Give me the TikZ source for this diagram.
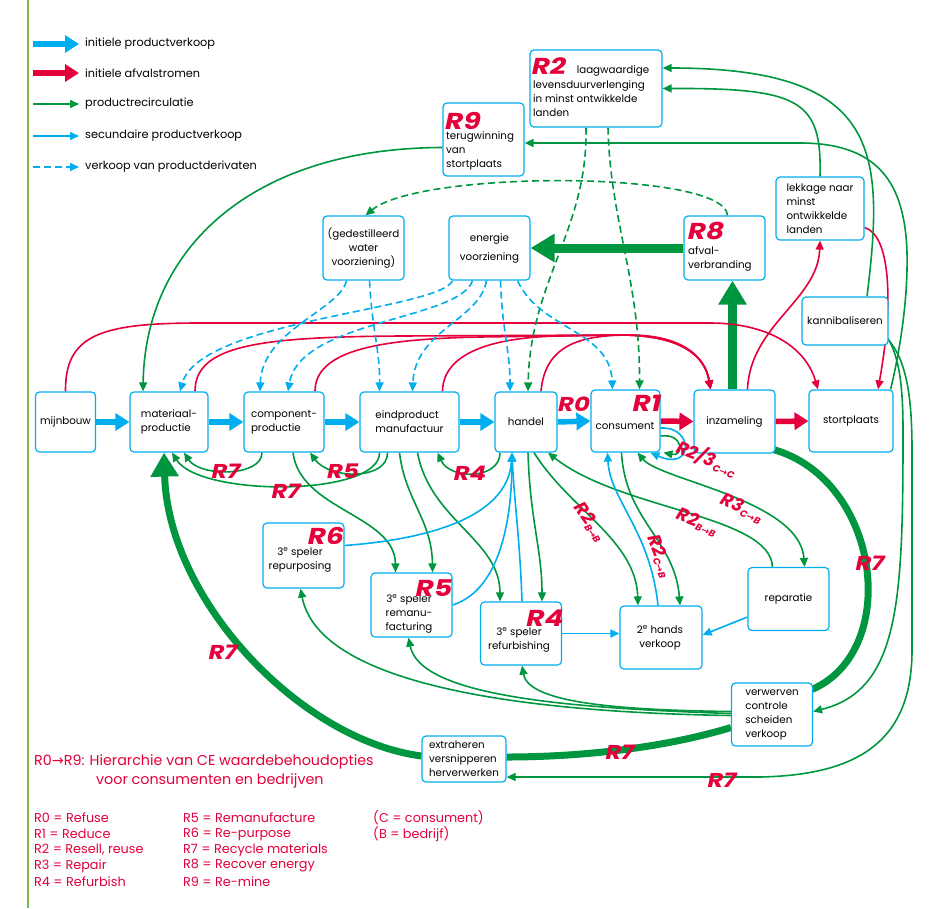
\documentclass[tikz,border=0pt]{standalone}
\usepackage{fontspec}
\setmainfont{Poppins}
\newfontfamily\dejavu{DejaVu Sans}
\usetikzlibrary{arrows.meta,calc}
\definecolor{cblue}{HTML}{00AEEF}
\definecolor{cred}{HTML}{E4003A}
\definecolor{cgreen}{HTML}{00963F}
\definecolor{cborder}{HTML}{7AB648}
\pgfdeclarelayer{bg}
\pgfsetlayers{bg,main}
\newcommand{\rarrow}{{\dejavu\char"2192}}
\newcommand{\wide}[1]{\scalebox{1.22}[1]{#1}}
\tikzset{
  box/.style={draw=cblue, line width=1.2pt, rounded corners=4pt, fill=white, inner sep=1pt, align=center, font=\fontsize{10.3}{14}\selectfont},
  txt/.style={inner sep=0pt, font=\fontsize{10.3}{14}\selectfont},
  rlab/.style={inner sep=0pt, text=cred, font=\fontsize{20}{20}\selectfont\bfseries\itshape},
  rbig/.style={inner sep=0pt, text=cred, font=\fontsize{23}{23}\selectfont\bfseries\itshape},
  sub/.style={inner sep=0pt, text=cred, font=\fontsize{18}{18}\selectfont\bfseries\itshape},
  gar/.style={cgreen, line width=1.6pt, -{Triangle[length=9pt,width=8pt]}},
  bar/.style={cblue, line width=1.6pt, -{Triangle[length=9pt,width=8pt]}},
  rar/.style={cred, line width=1.6pt, -{Triangle[length=9pt,width=8pt]}},
  gdash/.style={gar, dash pattern=on 7pt off 4pt},
  bdash/.style={bar, dash pattern=on 7pt off 4pt},
  bigb/.style={cblue, line width=5.5pt, -{Triangle[length=14pt,width=17pt]}},
  bigr/.style={cred, line width=5.5pt, -{Triangle[length=14pt,width=17pt]}},
  bigg/.style={cgreen, line width=9pt, -{Triangle[length=24pt,width=27pt]}},
  thickg/.style={cgreen, line width=7pt},
  legtxt/.style={inner sep=0pt, anchor=west, font=\fontsize{11.3}{13}\selectfont},
  redtxt/.style={inner sep=0pt, anchor=west, text=cred, font=\fontsize{12.8}{16}\selectfont},
}
\newcommand{\subs}[1]{\raisebox{-3pt}{\fontsize{9.5}{9.5}\selectfont #1}}
\begin{document}
\begin{tikzpicture}[x=1pt,y=-1pt]
\useasboundingbox (0,0) rectangle (933,908);
\draw[cborder, line width=1.5pt] (28,0) -- (28,908);

% ---------- legend ----------
\coordinate (l1a) at (33,44); \coordinate (l1b) at (79,44);
\coordinate (l2a) at (33,73); \coordinate (l2b) at (79,73);
\coordinate (l3a) at (33,104); \coordinate (l3b) at (79,104);
\coordinate (l4a) at (33,136); \coordinate (l4b) at (79,136);
\coordinate (l5a) at (33,167); \coordinate (l5b) at (79,167);
\draw[bigb] (l1a) -- (l1b);
\draw[bigr] (l2a) -- (l2b);
\draw[gar] (l3a) -- (l3b);
\draw[bar] (l4a) -- (l4b);
\draw[bdash] (l5a) -- (l5b);
\node[legtxt] (lt1) at (85,44) {initiele productverkoop};
\node[legtxt] (lt2) at (85,73) {initiele afvalstromen};
\node[legtxt] (lt3) at (85,104) {productrecirculatie};
\node[legtxt] (lt4) at (85,136) {secundaire productverkoop};
\node[legtxt] (lt5) at (85,167) {verkoop van productderivaten};

% ---------- boxes ----------
\node[box,minimum width=60pt,minimum height=60pt] (mij) at (65.5,422) {mijnbouw};
\node[box,minimum width=78pt,minimum height=60pt,align=left] (mat) at (169,422) {materiaal-\\productie};
\node[box,minimum width=80pt,minimum height=60pt,align=left] (comp) at (284,422) {component-\\productie};
\node[box,minimum width=99pt,minimum height=60pt,align=left] (eind) at (409.5,422) {eindproduct\\manufactuur};
\node[box,minimum width=62pt,minimum height=60pt] (han) at (526,422) {handel};
\node[box,minimum width=69pt,minimum height=62pt] (con) at (625.5,421) {};
\node[txt] (cont) at (625,426) {consument};
\node[box,minimum width=81pt,minimum height=63pt] (inz) at (734.5,421.5) {inzameling};
\node[box,minimum width=84pt,minimum height=62pt] (sto) at (851,421) {stortplaats};
\node[box,minimum width=132pt,minimum height=77pt] (r2) at (596,88.5) {};
\node[txt,anchor=north west,align=left] (r2t) at (533,80) {levensduurverlenging\\in minst ontwikkelde\\landen};
\node[txt] (r2t1) at (613,71) {laagwaardige};
\node[box,minimum width=81pt,minimum height=73pt] (r9) at (483.5,139.5) {};
\node[txt,anchor=north west,align=left] (r9t) at (446,131) {terugwinning\\van\\stortplaats};
\node[box,minimum width=81pt,minimum height=64pt] (wat) at (363.5,248) {(gedestilleerd\\water\\voorziening)};
\node[box,minimum width=81pt,minimum height=64pt] (ene) at (489.5,248) {energie\\[5pt]voorziening};
\node[box,minimum width=81pt,minimum height=64pt] (r8) at (724.5,248) {};
\node[txt,anchor=north west,align=left] (r8t) at (688,246) {afval-\\verbranding};
\node[box,minimum width=88pt,minimum height=63pt,align=left] (lek) at (820,208.5) {lekkage naar\\minst\\ontwikkelde\\landen};
\node[box,minimum width=86pt,minimum height=48pt] (kan) at (845,321) {kannibaliseren};
\node[box,minimum width=81pt,minimum height=65pt] (r6) at (303.5,555.5) {};
\node[txt,align=center] (r6t) at (300,560) {3\textsuperscript{e} speler\\repurposing};
\node[box,minimum width=81pt,minimum height=64pt] (r5) at (411.5,605) {};
\node[txt,align=center] (r5t) at (409,614) {3\textsuperscript{e} speler\\remanu-\\facturing};
\node[box,minimum width=81pt,minimum height=63pt] (r4) at (521,633.5) {};
\node[txt,align=center] (r4t) at (519,640) {3\textsuperscript{e} speler\\refurbishing};
\node[box,minimum width=82pt,minimum height=63pt] (tweede) at (661,637.5) {};
\node[txt,align=center] (tweedet) at (660,638) {2\textsuperscript{e} hands\\verkoop};
\node[box,minimum width=81pt,minimum height=63pt] (rep) at (788.5,599) {reparatie};
\node[box,minimum width=81pt,minimum height=63pt,align=left] (ver) at (772,714.5) {verwerven\\controle\\scheiden\\verkoop};
\node[box,minimum width=84pt,minimum height=46pt,align=left,inner sep=0pt] (ext) at (464,759) {extraheren\\versnipperen\\herverwerken};

% ---------- R labels in boxes ----------
\node[rbig] (lr2) at (549,66) {\wide{R2}};
\node[rbig] (lr9) at (463,121) {\wide{R9}};
\node[rbig] (lr8) at (706,231) {\wide{R8}};
\node[rbig] (lr1) at (647,403) {\wide{R1}};
\node[rbig] (lr6) at (326,536) {\wide{R6}};
\node[rbig] (lr5) at (434,588) {\wide{R5}};
\node[rbig] (lr4) at (545,618) {\wide{R4}};

% ---------- connectors ----------
\begin{pgfonlayer}{bg}
% main flow
\draw[bigb] (mij.east) -- (mat.west);
\draw[bigb] (mat.east) -- (comp.west);
\draw[bigb] (comp.east) -- (eind.west);
\draw[bigb] (eind.east) -- (han.west);
\draw[bigb] (han.east) -- (con.west);
\draw[bigr] (con.east) -- (inz.west);
\draw[bigr] (inz.east) -- (sto.west);
\draw[bigg] ($(inz.north)+(-2,0)$) -- ($(r8.south)+(8,0)$);
\draw[bigg] (r8.west) -- (ene.east);

% red top arcs
\draw[rar] (mij.north) .. controls (65,335) and (100,323) .. (200,323) -- (710,323) .. controls (765,323) and (805,345) .. ($(sto.north)+(-33,0)$);
\draw[rar] ($(mat.north)+(26,0)$) .. controls (195,345) and (260,337) .. (400,336) -- (620,335) .. controls (680,335) and (705,355) .. ($(inz.north)+(-24,0)$);
\draw[rar] ($(comp.north)+(31,0)$) .. controls (315,350) and (380,339) .. (480,337) -- (620,335) .. controls (680,335) and (705,355) .. ($(inz.north)+(-24,0)$);
\draw[rar] ($(eind.north)+(33,0)$) .. controls (443,350) and (500,337) .. (560,336) -- (620,335) .. controls (680,335) and (705,355) .. ($(inz.north)+(-24,0)$);
\draw[rar] ($(han.north)+(15,0)$) .. controls (545,345) and (580,335) .. (630,335) .. controls (680,335) and (705,355) .. ($(inz.north)+(-24,0)$);
\draw[rar] ($(inz.north)+(13,0)$) .. controls (750,325) and (818,300) .. (lek.south);
\draw[rar] ($(lek.east)+(0,19)$) .. controls (890,235) and (894,300) .. ($(sto.north)+(27,0)$);

% green from R9 to materiaal
\draw[gar] ($(r9.west)+(0,8)$) .. controls (250,148) and (145,250) .. ($(mat.north)+(-26,0)$);
% green dashed from R2
\draw[gdash] ($(r2.south)+(-10,0)$) .. controls (588,230) and (530,280) .. ($(han.north)+(2,0)$);
\draw[gdash] ($(r2.south)+(12,0)$) .. controls (610,220) and (640,280) .. ($(con.north)+(14,0)$);
% green dashed R8 -> water
\draw[gdash] ($(r8.north)+(3,0)$) .. controls (725,170) and (420,170) .. ($(wat.north)+(2,0)$);

% blue dashed from water and energie
\draw[bdash] ($(wat.south)+(-17,0)$) .. controls (340,310) and (262,330) .. ($(comp.north)+(-24,0)$);
\draw[bdash] ($(wat.south)+(6,0)$) .. controls (372,330) and (380,350) .. ($(eind.north)+(-30,0)$);
\draw[bdash] ($(ene.south)+(-37,0)$) .. controls (440,310) and (200,320) .. ($(mat.north)+(11,0)$);
\draw[bdash] ($(ene.south)+(-17,0)$) .. controls (460,320) and (300,320) .. ($(comp.north)+(4,0)$);
\draw[bdash] ($(ene.south)+(-3,0)$) .. controls (480,320) and (415,330) .. ($(eind.north)+(3,0)$);
\draw[bdash] ($(ene.south)+(11,0)$) .. controls (502,330) and (510,350) .. ($(han.north)+(-16,0)$);
\draw[bdash] ($(ene.south)+(28,0)$) .. controls (540,330) and (610,330) .. ($(con.north)+(-13,0)$);

% lower green recirculation
\draw[gar] ($(comp.south)+(-22,0)$) .. controls (262,477) and (200,477) .. ($(mat.south)+(15,0)$);
\draw[gar] ($(eind.south)+(-30,0)$) .. controls (380,497) and (200,497) .. ($(mat.south)+(3,0)$);
\draw[gar] ($(eind.south)+(-22,0)$) .. controls (388,480) and (330,480) .. ($(comp.south)+(26,0)$);
\draw[gar] ($(han.south)+(-26,0)$) .. controls (500,480) and (450,480) .. ($(eind.south)+(28,0)$);
\draw[gar] ($(comp.south)+(9,0)$) .. controls (300,510) and (395,515) .. ($(r5.north)+(-16,0)$);
\draw[gar] ($(eind.south)+(-10,0)$) .. controls (405,500) and (432,520) .. ($(r5.north)+(21,0)$);
\draw[gar] ($(eind.south)+(8,0)$) .. controls (430,520) and (500,540) .. ($(r4.north)+(-21,0)$);
\draw[gar] ($(han.south)+(2,0)$) .. controls (530,520) and (542,550) .. ($(r4.north)+(21,0)$);
\draw[gar] ($(han.south)+(8,0)$) .. controls (570,510) and (636,540) .. ($(tweede.north)+(-23,0)$);
\draw[gar] ($(rep.north)+(-16,0)$) .. controls (770,515) and (620,510) .. ($(han.south)+(22,0)$);
\draw[gar, {Triangle[length=9pt,width=8pt]}-{Triangle[length=9pt,width=8pt]}] ($(con.south)+(12,0)$) .. controls (660,480) and (800,500) .. ($(rep.north)+(16,0)$);
\draw[gar] ($(con.south)+(-4,0)$) .. controls (625,520) and (675,540) .. ($(tweede.north)+(19,0)$);

% blue secondary sales
\draw[bar] ($(tweede.north)+(-3,0)$) .. controls (650,530) and (610,500) .. ($(con.south)+(-18,0)$);
\draw[bar] ($(r6.east)+(0,-10)$) .. controls (420,540) and (508,520) .. ($(han.south)+(-14,0)$);
\draw[bar] (r5.east) .. controls (500,590) and (512,520) .. ($(han.south)+(-14,0)$);
\draw[bar] ($(r4.north)+(1,0)$) .. controls (520,540) and (514,500) .. ($(han.south)+(-14,0)$);
\draw[bar] (r4.east) -- ($(tweede.west)+(0,-4)$);
\draw[bar] ($(rep.west)+(0,18)$) -- ($(tweede.east)+(0,-2.5)$);
% loops at consument
\draw[bar] ($(con.east)+(0,7)$) .. controls (694,426) and (694,472) .. ($(con.south)+(25,0)$);
\draw[gar] ($(con.east)+(0,15)$) .. controls (684,433) and (684,457) .. ($(con.south)+(38,0)$);

% R7 thick flows
\draw[thickg] ($(inz.south east)+(-2,-4)$) .. controls (880,480) and (902,650) .. ($(ver.north east)+(-1,7)$);
\draw[thickg] ($(ver.west)+(0,13)$) .. controls (650,752) and (560,757) .. ($(ext.east)+(0,-2)$);
\draw[bigg, line width=7pt] ($(ext.west)+(0,-3)$) .. controls (300,740) and (168,600) .. ($(mat.south)+(-5,0)$);

% verwerven -> 3rd players
\draw[gar] ($(ver.west)+(0,-3)$) .. controls (600,710) and (528,700) .. ($(r4.south)+(1,0)$);
\draw[gar] ($(ver.west)+(0,-1)$) .. controls (560,708) and (420,695) .. ($(r5.south)+(-3,0)$);
\draw[gar] ($(ver.west)+(0,1)$) .. controls (500,712) and (318,680) .. ($(r6.south)+(-3,0)$);

% right side long green lines
\draw[gar] ($(kan.north)+(22,0)$) .. controls (885,150) and (880,68) .. ($(r2.east)+(0,-20.5)$);
\draw[gar] (lek.north) .. controls (822,100) and (800,88) .. (r2.east);
\draw[gar] ($(sto.north east)+(-3,0)$) .. controls (900,350) and (908,300) .. (907,253) .. controls (905,185) and (880,143) .. (800,143) -- ($(r9.east)+(0,3.5)$);
\draw[gar] ($(kan.south east)+(-5,-13)$) .. controls (898,350) and (903,380) .. (903,430) .. controls (903,600) and (900,690) .. ($(ver.east)+(0,-3)$);
\draw[gar] ($(kan.south east)+(-5,-11)$) .. controls (905,355) and (912,390) .. (912,450) -- (912,650) .. controls (912,740) and (860,775) .. (760,777) -- ($(ext.east)+(0,18)$);
\end{pgfonlayer}

% ---------- flow labels ----------
\node[rlab] (lr0) at (574,404) {\wide{R0}};
\node[rlab] (l7a) at (226,471) {\wide{R7}};
\node[rlab] (l7b) at (286,491) {\wide{R7}};
\node[rlab] (l5b) at (343,471) {\wide{R5}};
\node[rlab] (l4b) at (470,473) {\wide{R4}};
\node[rlab] (l7c) at (870,563) {\wide{R7}};
\node[rlab] (l7d) at (620,752) {\wide{R7}};
\node[rlab] (l7e) at (223,652) {\wide{R7}};
\node[rlab] (l7f) at (722,780) {\wide{R7}};
\node[sub, rotate=-22] (l23) at (707,458) {R2/3\subs{C\rarrow C}};
\node[sub, rotate=-25] (l3cb) at (742,508) {R3\subs{C\rarrow B}};
\node[sub, rotate=-22] (l2bb2) at (697,522) {R2\subs{B\rarrow B}};
\node[sub, rotate=-55] (l2bb1) at (590,522) {R2\subs{B\rarrow B}};
\node[sub, rotate=-70] (l2cb) at (660,556) {R2\subs{C\rarrow B}};

% ---------- bottom legend ----------
\node[redtxt, font=\fontsize{14.3}{16}\selectfont] (h1) at (34,762) {R0\rarrow R9: Hierarchie van CE waardebehoudopties};
\node[redtxt, font=\fontsize{14.3}{16}\selectfont] (h2) at (96,781) {voor consumenten en bedrijven};
\node[redtxt] (a0) at (34,818) {R0 = Refuse};
\node[redtxt] (a1) at (34,834) {R1 = Reduce};
\node[redtxt] (a2) at (34,850) {R2 = Resell, reuse};
\node[redtxt] (a3) at (34,866) {R3 = Repair};
\node[redtxt] (a4) at (34,882) {R4 = Refurbish};
\node[redtxt] (a5) at (183,818) {R5 = Remanufacture};
\node[redtxt] (a6) at (183,834) {R6 = Re-purpose};
\node[redtxt] (a7) at (183,850) {R7 = Recycle materials};
\node[redtxt] (a8) at (183,866) {R8 = Recover energy};
\node[redtxt] (a9) at (183,882) {R9 = Re-mine};
\node[redtxt] (ac) at (373,818) {(C = consument)};
\node[redtxt] (ab) at (373,834) {(B = bedrijf)};
\end{tikzpicture}
\end{document}
